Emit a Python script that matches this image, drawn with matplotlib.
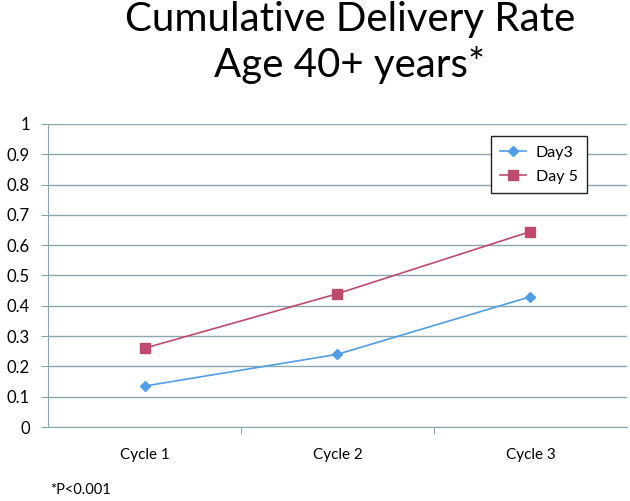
import matplotlib
matplotlib.use("Agg")
import matplotlib.pyplot as plt

cycles = ["Cycle 1", "Cycle 2", "Cycle 3"]
day3 = [0.135, 0.24, 0.43]
day5 = [0.26, 0.44, 0.645]
yticks = [0, 0.1, 0.2, 0.3, 0.4, 0.5, 0.6, 0.7, 0.8, 0.9, 1]

plt.rcParams["font.family"] = ["Lato", "DejaVu Sans"]

grid_col = "#8AA6B0"
blue = "#4F9DE6"
red = "#BE4B6E"

fig = plt.figure(figsize=(6.3, 5.01), dpi=100)
ax = fig.add_axes([0.0762, 0.1477, 0.919, 0.6048])

x = list(range(len(cycles)))
ax.plot(x, day3, color=blue, marker="D", markersize=5.5, linewidth=1.2, label="Day3")
ax.plot(x, day5, color=red, marker="s", markersize=7, linewidth=1.2, label="Day 5")

ax.set_xlim(-0.5, 2.5)
ax.set_ylim(0, 1)
ax.set_yticks(yticks)
ax.set_yticklabels([f"{v:g}" for v in yticks])
ax.yaxis.grid(True, color=grid_col, linewidth=1)
ax.set_axisbelow(True)

ax.set_xticks([0.5, 1.5], minor=False)
ax.set_xticklabels([])
ax.set_xticks(x, minor=True)
ax.set_xticklabels(cycles, minor=True)
ax.tick_params(axis="x", which="minor", length=0, pad=15, labelsize=11)
ax.tick_params(axis="x", which="major", length=5, color=grid_col, direction="out")
ax.tick_params(axis="y", length=5, color=grid_col, labelsize=12, pad=8)

for s in ["top", "right"]:
    ax.spines[s].set_visible(False)
for s in ["left", "bottom"]:
    ax.spines[s].set_color(grid_col)

leg = ax.legend(loc="upper right", bbox_to_anchor=(0.931, 0.96), borderaxespad=0,
                fancybox=False, framealpha=1, edgecolor="#222222", fontsize=11.5,
                handlelength=1.6, handletextpad=0.6, borderpad=0.6, labelspacing=0.6)
leg.get_frame().set_linewidth(1.0)

fig.text(0.555, 0.998, "Cumulative Delivery Rate\nAge 40+ years*", ha="center", va="top",
         fontsize=29, linespacing=1.25)
fig.text(0.08, 0.008, "*P<0.001", fontsize=10.5, ha="left", va="bottom")

fig.savefig("out.png", dpi=100)
